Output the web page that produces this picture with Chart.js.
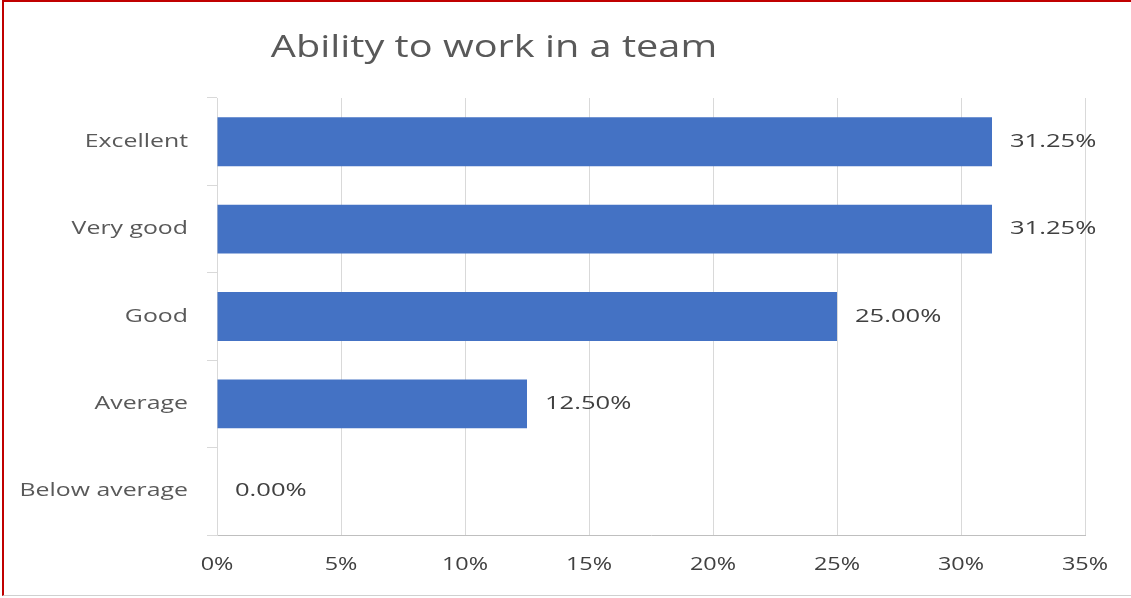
<!DOCTYPE html>
<html>
<head>
<meta charset="utf-8">
<script src="https://cdn.jsdelivr.net/npm/chart.js@4.4.0/dist/chart.umd.min.js"></script>
<style>
  html, body { margin: 0; padding: 0; background: #fff; }
  #wrap { position: relative; width: 1131px; height: 598px; }
  #frame {
    position: absolute; left: 2px; top: 0; width: 1129px; height: 596px;
    border-top: 2px solid #c00000; border-left: 2px solid #c00000;
    border-bottom: 1px solid #d0d0d0; box-sizing: border-box; pointer-events: none;
  }
</style>
</head>
<body>
<div id="wrap">
  <canvas id="chart" width="1131" height="598"></canvas>
  <div id="frame"></div>
</div>
<script>
const categories = ['Excellent', 'Very good', 'Good', 'Average', 'Below average'];
const shares = [31.25, 31.25, 25.00, 12.50, 0.00];
const tickMax = 35;
const tickStep = 5;
const chartTitle = 'Ability to work in a team';

const fontFamily = '"Open Sans", "DejaVu Sans", sans-serif';

// the original text is drawn a bit wider than normal, so stretch it
function wideText(ctx, text, x, y, align, size, color, sx) {
    ctx.save();
    ctx.font = size + 'px ' + fontFamily;
    ctx.fillStyle = color;
    ctx.textAlign = align;
    ctx.textBaseline = 'middle';
    ctx.translate(x, y);
    ctx.scale(sx, 1);
    ctx.fillText(text, 0, 0);
    ctx.restore();
}

// axis labels, placed from the library's scales
const axisLabels = {
    id: 'axisLabels',
    afterDraw(chart) {
        const ctx = chart.ctx;
        const xs = chart.scales.x;
        const ys = chart.scales.y;
        ys.ticks.forEach((t, i) => {
            wideText(ctx, chart.data.labels[i], ys.right - 29, ys.getPixelForTick(i), 'right', 18, '#595959', 1.38);
        });
        xs.ticks.forEach(t => {
            wideText(ctx, t.value + '%', xs.getPixelForValue(t.value), xs.top + 30, 'center', 18, '#404040', 1.3);
        });
    }
};

// value labels to the right of each bar
const barLabels = {
    id: 'barLabels',
    afterDatasetsDraw(chart) {
        const meta = chart.getDatasetMeta(0);
        meta.data.forEach((bar, i) => {
            wideText(chart.ctx, shares[i].toFixed(2) + '%', bar.x + 18, bar.y, 'left', 18, '#404040', 1.42);
        });
    }
};

const titleText = {
    id: 'titleText',
    afterDraw(chart) {
        wideText(chart.ctx, chartTitle, 494, 48, 'center', 31, '#595959', 1.28);
    }
};

new Chart(document.getElementById('chart').getContext('2d'), {
    type: 'bar',
    data: {
        labels: categories,
        datasets: [{
            data: shares,
            backgroundColor: '#4472c4',
            borderWidth: 0,
            barPercentage: 0.56,
            categoryPercentage: 1.0
        }]
    },
    options: {
        indexAxis: 'y',
        responsive: false,
        animation: false,
        layout: { padding: { left: 0, right: 46, top: 98, bottom: 0 } },
        plugins: {
            legend: { display: false },
            tooltip: { enabled: false },
            title: { display: false }
        },
        scales: {
            x: {
                min: 0,
                max: tickMax,
                afterFit(scale) { scale.height = 63; },
                ticks: { stepSize: tickStep, display: false },
                grid: { color: '#d9d9d9', lineWidth: 1, tickLength: 0 },
                border: { display: true, color: '#bfbfbf', width: 1 }
            },
            y: {
                afterFit(scale) { scale.width = 217; },
                ticks: { display: false },
                grid: { drawOnChartArea: false, color: '#d9d9d9', tickLength: 10, offset: true },
                border: { display: true, color: '#d9d9d9', width: 1 }
            }
        }
    },
    plugins: [barLabels, axisLabels, titleText]
});
</script>
</body>
</html>
